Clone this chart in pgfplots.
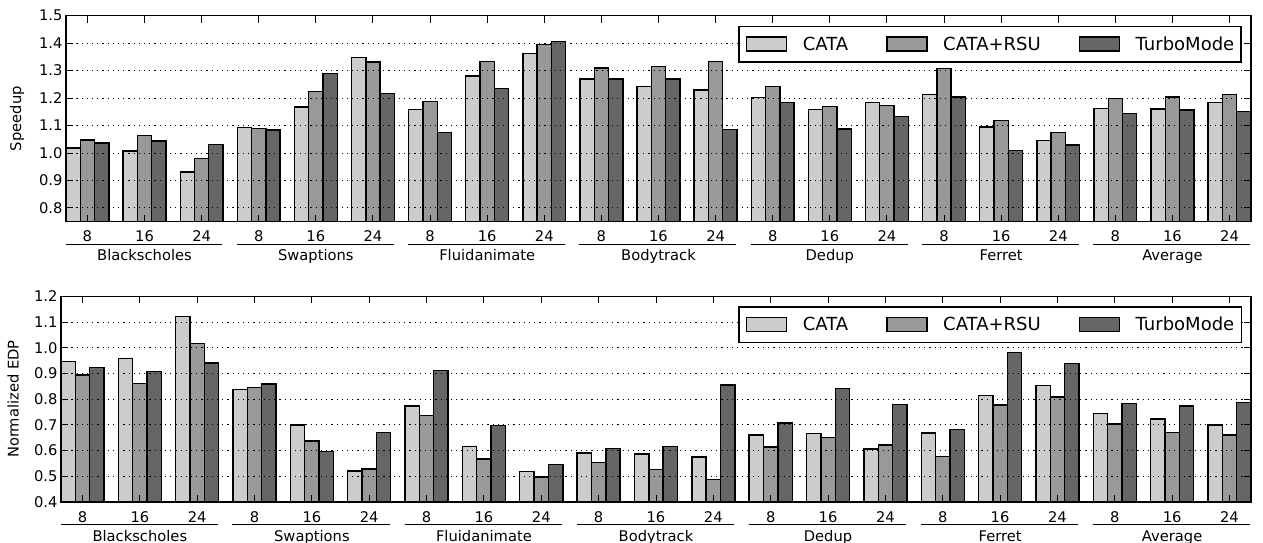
\documentclass[border=0pt]{standalone}
\usepackage{fontspec}
\setmainfont{DejaVu Sans}
\usepackage{pgfplots}
\usepackage{pgfplotstable}
\pgfplotsset{compat=1.18}

\definecolor{cA}{gray}{0.80}
\definecolor{cB}{gray}{0.60}
\definecolor{cC}{gray}{0.40}

\newcommand{\lblfont}{\fontsize{14.7}{17}\selectfont}
\newcommand{\legfont}{\fontsize{18}{21}\selectfont}

\pgfplotstableread{
x cata rsu turbo
0  1.019 1.047 1.037
1  1.007 1.063 1.044
2  0.931 0.979 1.031
3  1.093 1.089 1.084
4  1.168 1.224 1.289
5  1.347 1.331 1.216
6  1.159 1.187 1.075
7  1.280 1.334 1.235
8  1.363 1.395 1.406
9  1.270 1.310 1.270
10 1.243 1.314 1.270
11 1.230 1.334 1.085
12 1.203 1.243 1.185
13 1.158 1.169 1.087
14 1.185 1.173 1.133
15 1.213 1.308 1.204
16 1.095 1.119 1.009
17 1.046 1.074 1.029
18 1.162 1.198 1.144
19 1.161 1.204 1.157
20 1.185 1.214 1.151
}\speedup

\pgfplotstableread{
x cata rsu turbo
0  0.946 0.894 0.922
1  0.959 0.860 0.907
2  1.121 1.016 0.941
3  0.838 0.845 0.859
4  0.699 0.638 0.596
5  0.520 0.528 0.671
6  0.773 0.736 0.912
7  0.615 0.568 0.697
8  0.518 0.497 0.546
9  0.590 0.554 0.609
10 0.587 0.526 0.617
11 0.575 0.487 0.855
12 0.660 0.614 0.708
13 0.667 0.652 0.842
14 0.606 0.621 0.779
15 0.669 0.577 0.683
16 0.814 0.778 0.982
17 0.852 0.809 0.938
18 0.745 0.703 0.782
19 0.723 0.670 0.773
20 0.699 0.661 0.788
}\edp

\pgfplotsset{
  mybar/.style={ybar, bar width=0.25, draw=black, line width=1.4pt,
    legend image code/.code={\draw[##1, line width=1.4pt, bar shift=0pt] (0pt,-7pt) rectangle (40pt,7pt);
      \path (55.5pt,0pt);}},
  common/.style={
    scale only axis,
    anchor=south west,
    xmin=-0.375, xmax=20.375,
    xtick={0,...,20},
    xticklabels={8,16,24,8,16,24,8,16,24,8,16,24,8,16,24,8,16,24,8,16,24},
    tick align=inside,
    xtick pos=both, ytick pos=both,
    major tick length=7pt,
    tick style={black, line width=1pt},
    axis line style={black, line width=1.5pt},
    axis on top,
    clip mode=individual,
    ymajorgrids,
    grid style={black, line width=1pt, dash pattern=on 1.2pt off 4pt},
    tick label style={font=\lblfont},
    label style={font=\lblfont},
    /pgf/number format/assume math mode=true,
    yticklabel style={/pgf/number format/.cd, fixed, fixed zerofill, precision=1},
    xticklabel style={anchor=base, yshift=-20pt, inner sep=0pt},
    legend columns=3,
    legend style={at={(1,1)}, anchor=north east, xshift=-9pt, yshift=-10pt,
      draw=black, line width=1.5pt, font=\legfont, inner xsep=7pt, inner ysep=10pt,
      nodes={inner sep=0pt},
      /tikz/every even column/.append style={column sep=38pt}},
    legend cell align=left,
  }
}

\newcommand{\grp}[5]{%
  \draw[line width=1.2pt] ([yshift=-22.5pt]axis cs:#1,#5) -- ([yshift=-22.5pt]axis cs:#2,#5);
  \node[anchor=base, font=\lblfont, inner sep=0pt] at ([yshift=-39pt]axis cs:#3,#5) {#4};}

\newcommand{\allgroups}[1]{%
  \grp{-0.375}{2.365}{1}{Blackscholes}{#1}
  \grp{2.615}{5.365}{4}{Swaptions}{#1}
  \grp{5.615}{8.365}{7}{Fluidanimate}{#1}
  \grp{8.615}{11.365}{10}{Bodytrack}{#1}
  \grp{11.615}{14.365}{13}{Dedup}{#1}
  \grp{14.615}{17.365}{16}{Ferret}{#1}
  \grp{17.615}{20.365}{19}{Average}{#1}}

\begin{document}
\begin{tikzpicture}
\useasboundingbox (0,0) rectangle (1263pt,543pt);

\begin{axis}[common,
  at={(66pt,321.3pt)}, width=1185pt, height=206pt,
  ymin=0.75, ymax=1.5,
  ytick={0.8,0.9,1.0,1.1,1.2,1.3,1.4,1.5},
  ylabel={Speedup},
  ylabel style={at={(axis description cs:-0.0413,0.5)}, anchor=center},
]
\addplot[mybar, fill=cA, bar shift=-0.25] table[x=x, y=cata] {\speedup};
\addplot[mybar, fill=cB, bar shift=0] table[x=x, y=rsu] {\speedup};
\addplot[mybar, fill=cC, bar shift=0.25] table[x=x, y=turbo] {\speedup};
\legend{CATA, CATA+RSU, TurboMode}
\allgroups{0.75}
\end{axis}

\begin{axis}[common,
  at={(61pt,41pt)}, width=1190pt, height=205.7pt,
  ymin=0.4, ymax=1.2,
  ytick={0.4,0.5,0.6,0.7,0.8,0.9,1.0,1.1,1.2},
  ylabel={Normalized EDP},
  ylabel style={at={(axis description cs:-0.0403,0.5)}, anchor=center},
]
\addplot[mybar, fill=cA, bar shift=-0.25] table[x=x, y=cata] {\edp};
\addplot[mybar, fill=cB, bar shift=0] table[x=x, y=rsu] {\edp};
\addplot[mybar, fill=cC, bar shift=0.25] table[x=x, y=turbo] {\edp};
\legend{CATA, CATA+RSU, TurboMode}
\allgroups{0.4}
\end{axis}
\end{tikzpicture}
\end{document}
